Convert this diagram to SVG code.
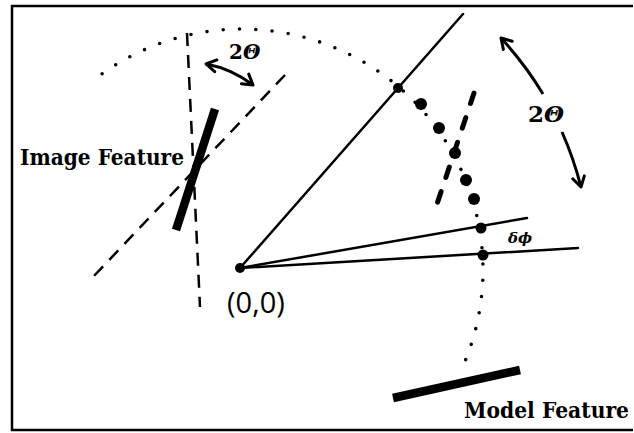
<svg xmlns="http://www.w3.org/2000/svg" width="634" height="433" viewBox="0 0 634 433">
<defs>
<marker id="ah" viewBox="-12 -8 14 16" markerWidth="14" markerHeight="16" refX="0" refY="0" orient="auto-start-reverse" markerUnits="userSpaceOnUse">
<path d="M -10 -6 L 0 0 L -10 6" fill="none" stroke="#000" stroke-width="3" stroke-linecap="round" stroke-linejoin="round"/>
</marker>
</defs>
<style>
.frame{fill:none;stroke:#000;stroke-width:2.5}
.ray{stroke:#000;stroke-width:2.5;fill:none;stroke-linecap:round}
.thin-dash{stroke:#000;stroke-width:2.5;fill:none;stroke-dasharray:13 9}
.thick-dash{stroke:#000;stroke-width:5;fill:none;stroke-dasharray:11 15;stroke-linecap:round}
.dots{stroke:#000;stroke-width:3.6;fill:none;stroke-dasharray:0 16.3;stroke-linecap:round}
.bar{stroke:#000;stroke-width:8.5;fill:none}
.arrow{stroke:#000;stroke-width:3;fill:none}
.big{fill:#000}
.lbl{font-family:"DejaVu Serif","Liberation Serif",serif;font-weight:bold;fill:#000}
.sans{font-family:"Open Sans","Liberation Sans",sans-serif;fill:#000}
</style>
<path class="frame" d="M 633 6 H 12 V 430 H 633"/>

<g id="connectors">
<line class="ray" x1="240" y1="268" x2="463" y2="14"/>
<line class="ray" x1="240" y1="268" x2="527" y2="218"/>
<line class="ray" x1="240" y1="268" x2="578" y2="248"/>
<line class="thin-dash" x1="187" y1="33" x2="200" y2="307"/>
<line class="thin-dash" x1="285" y1="75" x2="92" y2="278"/>
<line class="thick-dash" x1="474" y1="93" x2="435" y2="210"/>
<path class="dots" d="M 102.1 73.8 A 241 241 0 0 1 460.4 371.9"/>
<path class="arrow" d="M 206 64 A 110 110 0 0 1 253 85" marker-start="url(#ah)" marker-end="url(#ah)"/>
<path class="arrow" d="M 543 94 A 348 348 0 0 0 501 38" marker-end="url(#ah)"/>
<path class="arrow" d="M 562 132 A 348 348 0 0 1 581 187" marker-end="url(#ah)"/>
</g>

<g id="origin">
<circle class="big" cx="240" cy="268" r="5"/>
<text class="sans" x="227" y="313" font-size="29">(0,0)</text>
</g>

<g id="image-feature">
<line class="bar" x1="215" y1="109" x2="176" y2="230"/>
<text class="lbl" x="20" y="165" font-size="23" textLength="164" lengthAdjust="spacingAndGlyphs">Image Feature</text>
</g>

<g id="model-feature">
<line class="bar" x1="393" y1="398" x2="520" y2="370"/>
<text class="lbl" x="464" y="418" font-size="22" textLength="165" lengthAdjust="spacingAndGlyphs">Model Feature</text>
</g>

<g id="samples">
<circle class="big" cx="398" cy="88" r="5"/>
<circle class="big" cx="421" cy="104" r="6"/>
<circle class="big" cx="439" cy="128" r="6"/>
<circle class="big" cx="455" cy="153" r="6"/>
<circle class="big" cx="466" cy="180" r="6"/>
<circle class="big" cx="474" cy="199" r="6"/>
<circle class="big" cx="481" cy="228" r="5.5"/>
<circle class="big" cx="483" cy="255" r="5.5"/>
</g>

<g id="labels">
<text class="lbl" x="229" y="59" font-size="20">2<tspan font-style="italic">Θ</tspan></text>
<text class="lbl" x="528" y="122" font-size="23">2<tspan font-style="italic">Θ</tspan></text>
<text class="lbl" x="508" y="243" font-size="15" font-style="italic">δϕ</text>
</g>
</svg>
